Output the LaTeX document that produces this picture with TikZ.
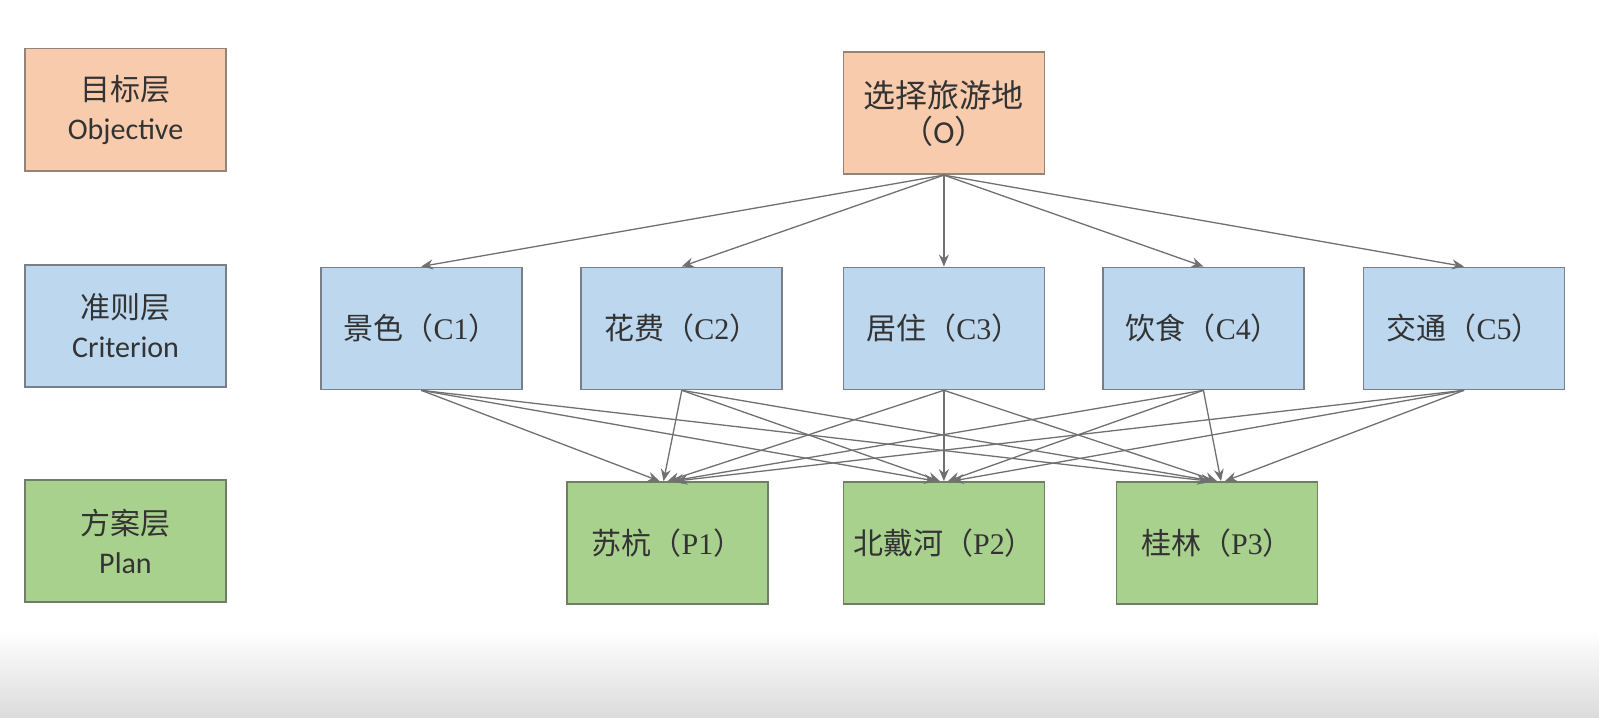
\documentclass[tikz,border=0pt]{standalone}
\usepackage{fontspec}
\setmainfont{Carlito}
\newfontfamily\cjk{Noto Sans CJK SC}
\newfontfamily\lserif{Liberation Serif}
\usetikzlibrary{arrows.meta}
\definecolor{objfill}{HTML}{F8CBAD}
\definecolor{crifill}{HTML}{BDD7EE}
\definecolor{plafill}{HTML}{A9D18E}
\definecolor{txt}{HTML}{333333}
\definecolor{arr}{HTML}{707070}
\newcommand{\lab}[2]{{\cjk #1（}{\lserif #2}{\cjk ）}}
\tikzset{
  box/.style={draw, line width=0.9pt, minimum width=100.5pt, minimum height=61pt,
    inner sep=0pt, align=center, text=txt, font=\fontsize{15}{19.5}\selectfont},
  obj/.style={box, fill=objfill, draw=objfill!45!black!75},
  cri/.style={box, fill=crifill, draw=crifill!45!black!80},
  pla/.style={box, fill=plafill, draw=plafill!45!black!80},
  link/.style={draw=arr, line width=0.65pt, -{Stealth[length=6pt,width=5pt,inset=2pt]}},
}
\begin{document}
\begin{tikzpicture}[x=0.5pt,y=-0.5pt]
\useasboundingbox (0,0) rectangle (1599,717);
\shade[top color=white, bottom color=black!14] (0,630) rectangle (1599,717);
% left legend
\node[obj] (lo) at (125.5,109.6) {{\cjk 目标层}\\Objective};
\node[cri] (lc) at (125.5,325.8) {{\cjk 准则层}\\Criterion};
\node[pla] (lp) at (125.5,541) {{\cjk 方案层}\\Plan};
% objective
\node[obj, font=\fontsize{16}{18}\selectfont] (o) at (943.9,113.2) {{\cjk 选择旅游地}\\{\cjk （}O{\cjk ）}};
% criteria
\node[cri] (c1) at (421.2,328.4) {\lab{景色}{C1}};
\node[cri] (c2) at (681.8,328.4) {\lab{花费}{C2}};
\node[cri] (c3) at (943.9,328.4) {\lab{居住}{C3}};
\node[cri] (c4) at (1203.4,328.4) {\lab{饮食}{C4}};
\node[cri] (c5) at (1464,328.4) {\lab{交通}{C5}};
% plans
\node[pla] (p1) at (667.5,543) {\lab{苏杭}{P1}};
\node[pla] (p2) at (943.9,543) {\lab{北戴河}{P2}};
\node[pla] (p3) at (1217,543) {\lab{桂林}{P3}};
% objective to criteria
\foreach \c in {c1,c2,c3,c4,c5}
  \draw[link] (o.south) -- (\c.north);
% criteria to plans
\foreach \c/\d in {c1/-8,c2/-4,c3/0,c4/4,c5/8}
  \foreach \p in {p1,p2,p3}
    \draw[link] (\c.south) -- ([xshift=\d*0.5pt]\p.north);
\end{tikzpicture}
\end{document}
